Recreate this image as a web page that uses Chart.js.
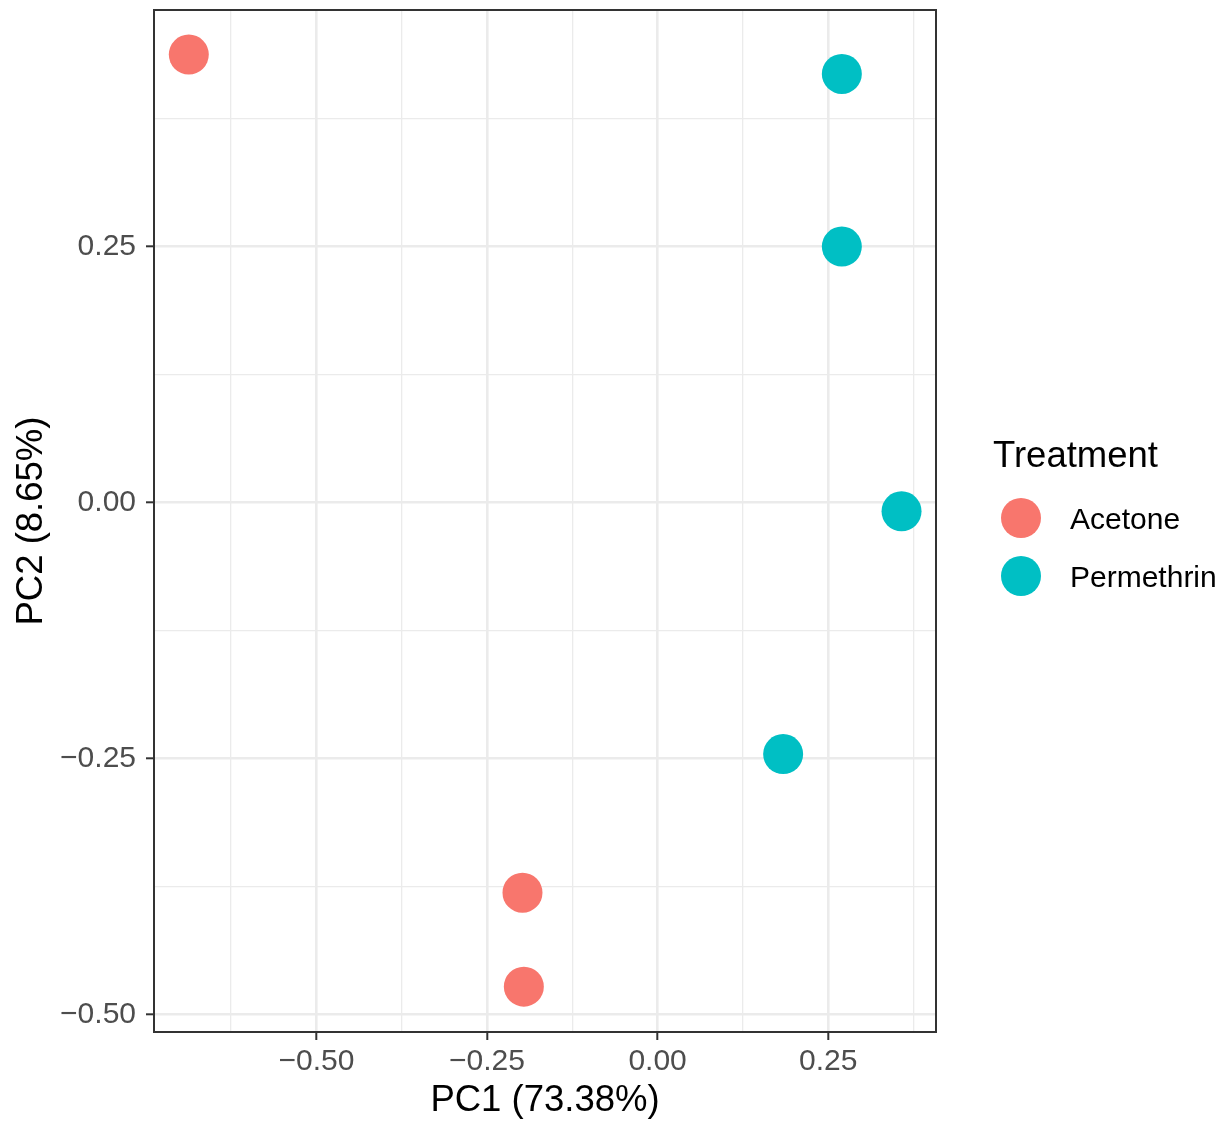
<!DOCTYPE html>
<html>
<head>
<meta charset="utf-8">
<script src="https://cdn.jsdelivr.net/npm/chart.js@4/dist/chart.umd.min.js"></script>
<style>
  html, body { margin: 0; padding: 0; background: #ffffff; }
  #wrap { width: 1227px; height: 1126px; position: relative; }
</style>
</head>
<body>
<div id="wrap"><canvas id="c"></canvas></div>
<script>
// ---- Data ----
const seriesNames = ['Acetone', 'Permethrin'];
const seriesColors = ['#F8766D', '#00BFC4'];
const pc1Acetone = [-0.687, -0.198, -0.196];
const pc2Acetone = [0.4375, -0.381, -0.4727];
const pc1Permethrin = [0.270, 0.270, 0.3575, 0.184];
const pc2Permethrin = [0.4186, 0.250, -0.0085, -0.2456];

const xMajorTicks = [-0.5, -0.25, 0, 0.25];
const xTickLabels = ['\u22120.50', '\u22120.25', '0.00', '0.25'];
const xMinorTicks = [-0.625, -0.375, -0.125, 0.125, 0.375];
const yMajorTicks = [-0.5, -0.25, 0, 0.25];
const yTickLabels = ['\u22120.50', '\u22120.25', '0.00', '0.25'];
const yMinorTicks = [-0.375, -0.125, 0.125, 0.375];

const xTitle = 'PC1 (73.38%)';
const yTitle = 'PC2 (8.65%)';
const legendTitle = 'Treatment';

const FONT = '"Liberation Sans", Arial, Helvetica, sans-serif';

function toPoints(xs, ys) { return xs.map((x, i) => ({ x: x, y: ys[i] })); }
function isMajor(v, majors) { return majors.some(m => Math.abs(m - v) < 1e-9); }
function labelFor(v, majors, labels) {
  const i = majors.findIndex(m => Math.abs(m - v) < 1e-9);
  return i >= 0 ? labels[i] : '';
}

const panelBorder = {
  id: 'panelBorder',
  afterDatasetsDraw(chart) {
    const { ctx, chartArea: a } = chart;
    ctx.save();
    ctx.strokeStyle = '#333333';
    ctx.lineWidth = 2;
    ctx.strokeRect(a.left, a.top, a.right - a.left, a.bottom - a.top);
    ctx.restore();
  }
};

const ggLegend = {
  id: 'ggLegend',
  afterDraw(chart) {
    const { ctx } = chart;
    ctx.save();
    ctx.fillStyle = '#000000';
    ctx.textAlign = 'left';
    ctx.textBaseline = 'alphabetic';
    ctx.font = '36.5px ' + FONT;
    ctx.fillText(legendTitle, 993, 467);
    chart.data.datasets.forEach((ds, i) => {
      const cy = 518 + i * 58;
      ctx.beginPath();
      ctx.arc(1021, cy, 20, 0, Math.PI * 2);
      ctx.fillStyle = ds.backgroundColor;
      ctx.fill();
      ctx.fillStyle = '#000000';
      ctx.font = '30px ' + FONT;
      ctx.fillText(ds.label, 1070, cy + 11);
    });
    ctx.restore();
  }
};

new Chart(document.getElementById('c'), {
  type: 'scatter',
  data: {
    datasets: [
      { label: seriesNames[0], data: toPoints(pc1Acetone, pc2Acetone),
        backgroundColor: seriesColors[0], borderWidth: 0, pointRadius: 20, pointHoverRadius: 20 },
      { label: seriesNames[1], data: toPoints(pc1Permethrin, pc2Permethrin),
        backgroundColor: seriesColors[1], borderWidth: 0, pointRadius: 20, pointHoverRadius: 20 }
    ]
  },
  options: {
    responsive: true,
    maintainAspectRatio: false,
    animation: false,
    events: [],
    layout: { autoPadding: false, padding: { left: 0, right: 291, top: 10, bottom: 0 } },
    plugins: { legend: { display: false }, tooltip: { enabled: false } },
    scales: {
      x: {
        type: 'linear', position: 'bottom',
        min: -0.738, max: 0.408,
        afterBuildTicks(scale) {
          scale.ticks = xMajorTicks.concat(xMinorTicks).sort((a, b) => a - b).map(v => ({ value: v }));
        },
        afterFit(scale) { scale.height = 94; scale.paddingLeft = 0; scale.paddingRight = 0; },
        border: { display: false },
        grid: {
          color: '#EBEBEB',
          lineWidth: ctx => isMajor(ctx.tick.value, xMajorTicks) ? 2.6 : 1.3,
          drawTicks: true, tickLength: 8, tickWidth: 2,
          tickColor: ctx => isMajor(ctx.tick.value, xMajorTicks) ? '#333333' : 'rgba(0,0,0,0)'
        },
        ticks: {
          autoSkip: false, maxRotation: 0, padding: 4,
          color: '#4D4D4D', font: { family: FONT, size: 30 },
          callback: v => labelFor(v, xMajorTicks, xTickLabels)
        },
        title: { display: true, text: xTitle, color: '#000000',
          font: { family: FONT, size: 36.5, lineHeight: 1.2 }, padding: { top: 0, bottom: 3 } }
      },
      y: {
        type: 'linear', position: 'left',
        min: -0.517, max: 0.481,
        afterBuildTicks(scale) {
          scale.ticks = yMajorTicks.concat(yMinorTicks).sort((a, b) => a - b).map(v => ({ value: v }));
        },
        afterFit(scale) { scale.width = 154; scale.paddingTop = 0; scale.paddingBottom = 0; },
        border: { display: false },
        grid: {
          color: '#EBEBEB',
          lineWidth: ctx => isMajor(ctx.tick.value, yMajorTicks) ? 2.6 : 1.3,
          drawTicks: true, tickLength: 8, tickWidth: 2,
          tickColor: ctx => isMajor(ctx.tick.value, yMajorTicks) ? '#333333' : 'rgba(0,0,0,0)'
        },
        ticks: {
          autoSkip: false, padding: 10,
          color: '#4D4D4D', font: { family: FONT, size: 30 },
          callback: v => labelFor(v, yMajorTicks, yTickLabels)
        },
        title: { display: true, text: yTitle, color: '#000000',
          font: { family: FONT, size: 36.5, lineHeight: 1.2 }, padding: { top: 10, bottom: 0 } }
      }
    }
  },
  plugins: [panelBorder, ggLegend]
});
</script>
</body>
</html>
